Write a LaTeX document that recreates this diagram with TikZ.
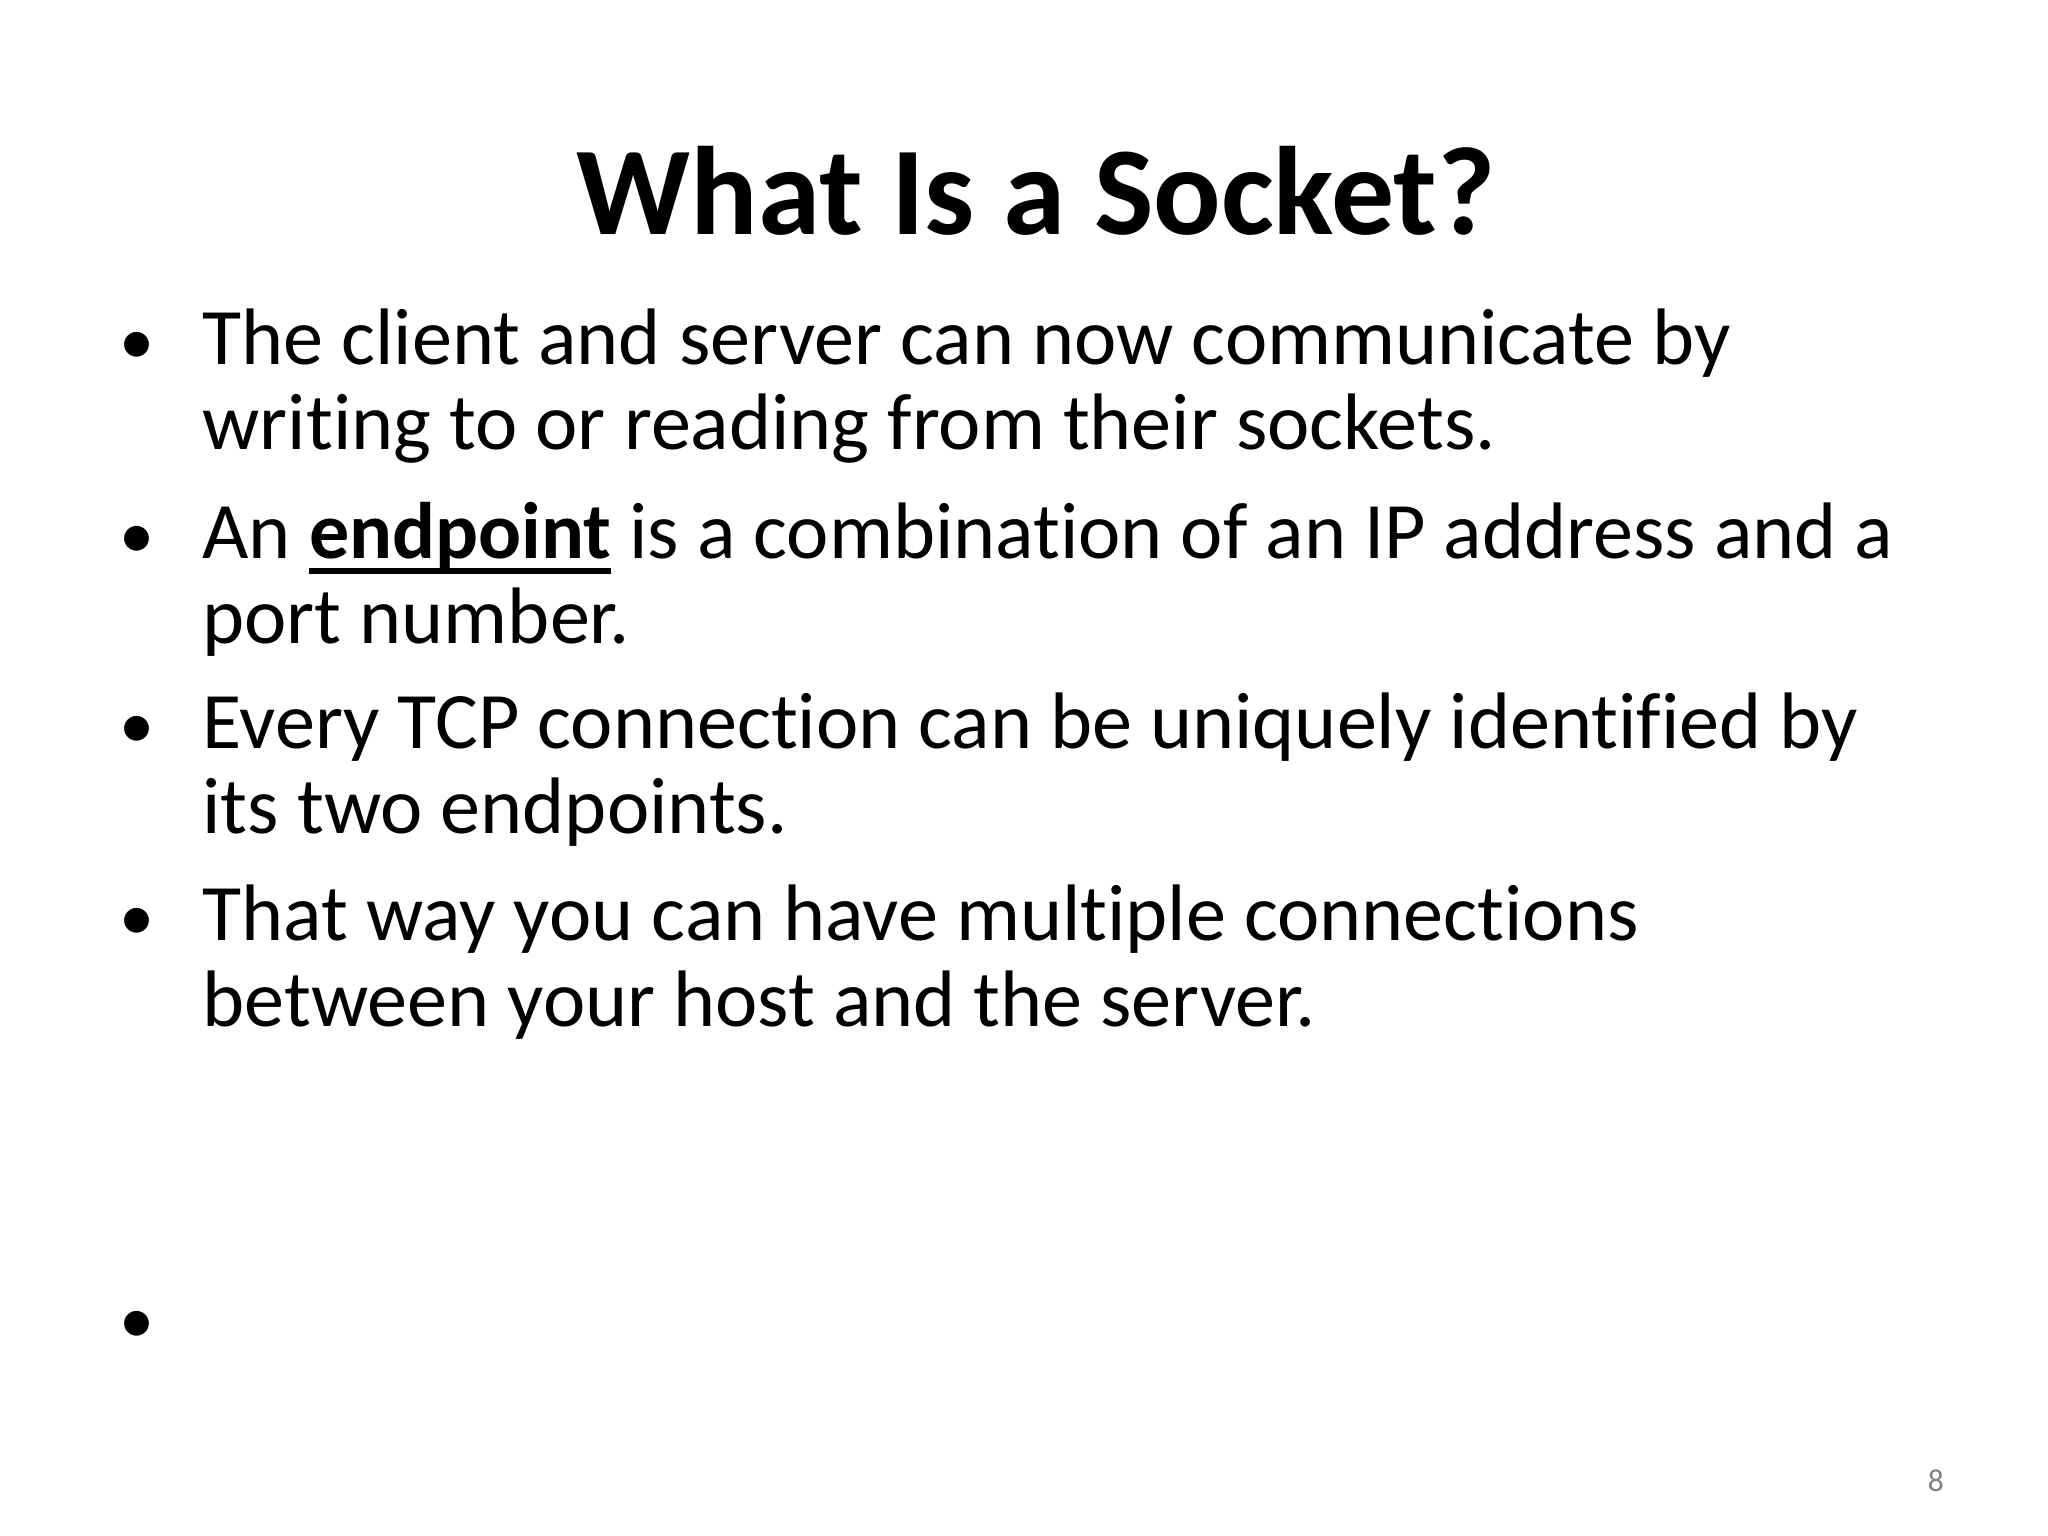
\documentclass[tikz,border=0pt]{standalone}
\usepackage{fontspec}
\setmainfont{Carlito}[RawFeature=-liga]
\newcommand\myul[1]{\setbox0\hbox{#1}\rlap{\usebox0}\raisebox{-4.5pt}{\rule{\wd0}{1.6pt}}}
\begin{document}
\begin{tikzpicture}
\useasboundingbox (0,0) rectangle (20.48,15.36);
\tikzset{body/.style={anchor=base west,inner sep=0pt,font=\fontsize{22.8}{28}\selectfont},
 bul/.style={anchor=base,inner sep=0pt,font=\fontsize{20}{24}\selectfont}}
\node[anchor=base,inner sep=0pt,font=\fontsize{35.8}{42}\selectfont\bfseries] (title) at (10.36,13.01) {What Is a Socket?};
\node[bul] (b1) at (1.372,11.718) {•};
\node[body] (l1) at (2.019,11.718) {The client and server can now communicate by};
\node[body] (l2) at (2.019,10.860) {writing to or reading from their sockets.};
\node[bul] (b2) at (1.372,9.778) {•};
\node[body] (l3) at (2.019,9.778) {An \myul{\textbf{endpoint}} is a combination of an IP address and a};
\node[body] (l4) at (2.019,8.921) {port number.};
\node[bul] (b3) at (1.372,7.878) {•};
\node[body] (l5) at (2.019,7.878) {Every TCP connection can be uniquely identified by};
\node[body] (l6) at (2.019,7.020) {its two endpoints.};
\node[bul] (b4) at (1.372,5.951) {•};
\node[body] (l7) at (2.019,5.951) {That way you can have multiple connections};
\node[body] (l8) at (2.019,5.094) {between your host and the server.};
\node[bul] (b5) at (1.372,1.927) {•};
\node[anchor=base,inner sep=0pt,font=\fontsize{9}{11}\selectfont,text=gray] (pg) at (19.36,0.449) {8};
\end{tikzpicture}
\end{document}
